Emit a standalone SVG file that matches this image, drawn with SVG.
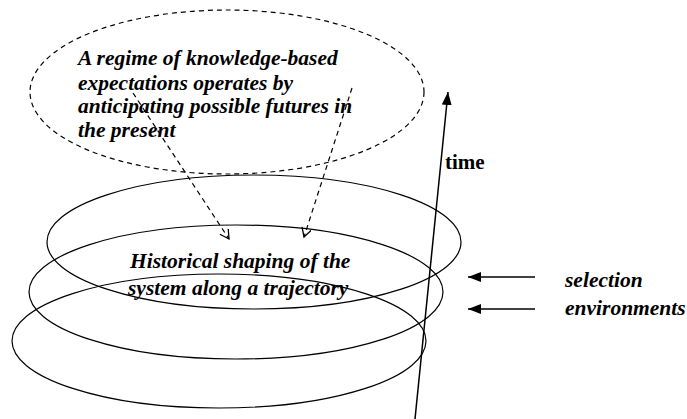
<svg xmlns="http://www.w3.org/2000/svg" width="687" height="419" viewBox="0 0 687 419">
<style>
.t{font-family:"Liberation Serif","Times New Roman",serif;font-weight:bold;font-style:italic;font-size:21.5px;fill:#000}
.b{font-family:"Liberation Serif","Times New Roman",serif;font-weight:bold;font-size:21px;fill:#000}
.ring{fill:none;stroke:#000;stroke-width:1.2}
.dash{fill:none;stroke:#000;stroke-width:1.2;stroke-dasharray:5,4}
.ln{fill:none;stroke:#000;stroke-width:1.5}
</style>
<defs>
<marker id="open" markerWidth="12" markerHeight="12" refX="10" refY="5" orient="auto" markerUnits="userSpaceOnUse">
<path d="M1,0 L10,5 L1,10" fill="none" stroke="#000" stroke-width="1.3"/>
</marker>
<marker id="fill" markerWidth="14" markerHeight="10" refX="13" refY="5" orient="auto" markerUnits="userSpaceOnUse">
<path d="M0,0 L13,5 L0,10 Z" fill="#000"/>
</marker>
</defs>
<rect width="687" height="419" fill="#fff"/>
<g id="expectations">
<ellipse class="dash" cx="227" cy="92" rx="197" ry="82"/>
<text class="t"><tspan x="78" y="65">A regime of knowledge-based</tspan><tspan x="78" y="90">expectations operates by</tspan><tspan x="78" y="113">anticipating possible futures in</tspan><tspan x="78" y="137">the present</tspan></text>
</g>
<g id="trajectory">
<ellipse class="ring" cx="254" cy="242" rx="207" ry="67"/>
<ellipse class="ring" cx="236" cy="292" rx="207" ry="67"/>
<ellipse class="ring" cx="219" cy="341" rx="207" ry="67"/>
<text class="t"><tspan x="130" y="268">Historical shaping of the</tspan><tspan x="128" y="295">system along a trajectory</tspan></text>
</g>
<g id="time">
<text class="b" x="445" y="169">time</text>
</g>
<g id="selection">
<text class="t"><tspan x="565" y="287">selection</tspan><tspan x="565" y="315">environments</tspan></text>
</g>
<g id="connectors">
<line class="dash" x1="133" y1="93" x2="229" y2="239" marker-end="url(#open)"/>
<line class="dash" x1="352" y1="88" x2="304" y2="237" marker-end="url(#open)"/>
<line class="ln" x1="415" y1="419" x2="448" y2="92" marker-end="url(#fill)"/>
<line class="ln" x1="535" y1="277" x2="468" y2="277" marker-end="url(#fill)"/>
<line class="ln" x1="535" y1="309" x2="468" y2="309" marker-end="url(#fill)"/>
</g>
</svg>
